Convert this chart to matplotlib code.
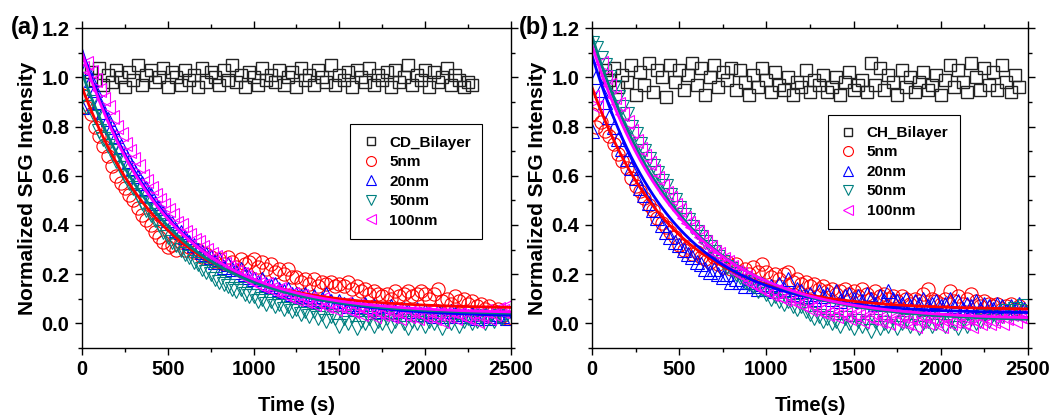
"""
SFG intensity decay, two panels (CD / CH bilayer)
"""

import matplotlib
matplotlib.use('Agg')

import numpy as np
import matplotlib.pyplot as plt

# time grids (s)
t_decay = np.arange(0, 2500, 25)
t_sq_a = np.arange(50, 2300, 25)
t_sq_b = np.arange(75, 2475, 25)

series_labels = ['5nm', '20nm', '50nm', '100nm']
series_colors = ['#ff0000', '#0000ff', '#008080', '#ff00ff']
series_markers = ['o', '^', 'v', '<']

# ---- panel (a) ----
sq_a = [1.02, 0.99, 1.04, 0.97, 1.01, 0.98, 1.03, 1.00, 0.96, 1.02,
        0.99, 1.05, 0.97, 1.01, 1.03, 0.98, 1.00, 1.04, 0.96, 1.02,
        1.00, 0.97, 1.03, 0.99, 1.01, 0.96, 1.04, 0.98, 1.02, 1.00,
        0.97, 1.03, 0.99, 1.05, 0.98, 1.01, 0.96, 1.02, 1.00, 0.97,
        1.04, 0.99, 1.01, 0.98, 1.03, 0.97, 1.00, 1.02, 0.96, 1.04,
        0.99, 1.01, 0.97, 1.03, 1.00, 0.98, 1.05, 0.97, 1.01, 0.99,
        1.02, 0.96, 1.03, 1.00, 0.98, 1.04, 0.97, 1.01, 0.99, 1.02,
        0.96, 1.03, 0.98, 1.00, 1.05, 0.97, 1.01, 0.99, 1.03, 0.96,
        1.02, 0.98, 1.00, 1.04, 0.97, 1.01, 0.99, 0.96, 0.98, 0.97]

a_5nm = [0.93, 0.88, 0.85, 0.80, 0.76, 0.72, 0.68, 0.64, 0.60, 0.57,
         0.55, 0.52, 0.50, 0.47, 0.44, 0.42, 0.40, 0.37, 0.35, 0.33,
         0.31, 0.32, 0.30, 0.33, 0.30, 0.31, 0.29, 0.30, 0.27, 0.28,
         0.27, 0.25, 0.26, 0.24, 0.27, 0.25, 0.23, 0.26, 0.24, 0.25,
         0.26, 0.23, 0.25, 0.22, 0.24, 0.21, 0.22, 0.20, 0.22, 0.19,
         0.19, 0.17, 0.18, 0.16, 0.18, 0.15, 0.17, 0.16, 0.17, 0.15,
         0.16, 0.15, 0.17, 0.14, 0.15, 0.13, 0.14, 0.12, 0.13, 0.12,
         0.11, 0.12, 0.10, 0.13, 0.11, 0.12, 0.13, 0.11, 0.12, 0.13,
         0.12, 0.10, 0.12, 0.14, 0.09, 0.10, 0.08, 0.11, 0.09, 0.10,
         0.08, 0.09, 0.07, 0.08, 0.06, 0.07, 0.05, 0.06, 0.03, 0.02]

a_20nm = [0.88, 1.04, 0.99, 0.95, 0.90, 0.86, 0.83, 0.80, 0.76, 0.72,
          0.69, 0.66, 0.63, 0.60, 0.57, 0.55, 0.52, 0.49, 0.47, 0.45,
          0.42, 0.41, 0.38, 0.37, 0.35, 0.33, 0.32, 0.30, 0.29, 0.28,
          0.27, 0.25, 0.26, 0.23, 0.24, 0.22, 0.21, 0.22, 0.20, 0.19,
          0.18, 0.17, 0.18, 0.16, 0.15, 0.16, 0.14, 0.13, 0.14, 0.12,
          0.12, 0.11, 0.12, 0.10, 0.11, 0.09, 0.10, 0.12, 0.09, 0.08,
          0.09, 0.08, 0.07, 0.08, 0.06, 0.07, 0.08, 0.06, 0.07, 0.05,
          0.06, 0.05, 0.07, 0.05, 0.04, 0.06, 0.05, 0.04, 0.06, 0.04,
          0.05, 0.04, 0.03, 0.05, 0.04, 0.03, 0.05, 0.04, 0.03, 0.04,
          0.03, 0.04, 0.02, 0.03, 0.04, 0.02, 0.03, 0.04, 0.03, 0.02]

a_50nm = [0.92, 0.88, 0.90, 0.84, 0.78, 0.75, 0.72, 0.70, 0.66, 0.63,
          0.60, 0.57, 0.55, 0.52, 0.49, 0.46, 0.44, 0.42, 0.40, 0.37,
          0.35, 0.33, 0.32, 0.30, 0.28, 0.27, 0.25, 0.24, 0.22, 0.21,
          0.20, 0.18, 0.17, 0.16, 0.15, 0.14, 0.13, 0.14, 0.12, 0.11,
          0.11, 0.09, 0.10, 0.08, 0.09, 0.07, 0.08, 0.06, 0.07, 0.05,
          0.06, 0.04, 0.05, 0.03, 0.05, 0.02, 0.04, 0.01, 0.03, 0.02,
          -0.01, 0.02, 0.00, 0.03, -0.02, 0.01, 0.00, 0.02, -0.01, 0.01,
          0.00, 0.02, -0.01, 0.01, 0.03, 0.00, -0.02, 0.01, 0.00, 0.02,
          -0.01, 0.01, 0.00, 0.02, -0.02, 0.01, 0.00, 0.03, -0.01, 0.01,
          0.02, 0.00, 0.01, 0.03, 0.00, 0.02, 0.01, 0.03, 0.02, 0.04]

a_100nm = [1.04, 1.06, 1.02, 0.99, 0.95, 0.91, 0.88, 0.84, 0.80, 0.77,
           0.73, 0.70, 0.67, 0.64, 0.60, 0.58, 0.55, 0.52, 0.50, 0.48,
           0.46, 0.44, 0.41, 0.40, 0.37, 0.36, 0.34, 0.33, 0.31, 0.30,
           0.28, 0.27, 0.26, 0.24, 0.23, 0.22, 0.21, 0.20, 0.19, 0.18,
           0.17, 0.16, 0.15, 0.16, 0.14, 0.13, 0.14, 0.12, 0.11, 0.12,
           0.10, 0.11, 0.09, 0.10, 0.08, 0.09, 0.10, 0.07, 0.08, 0.06,
           0.07, 0.08, 0.06, 0.05, 0.07, 0.04, 0.06, 0.05, 0.03, 0.05,
           0.04, 0.06, 0.03, 0.05, 0.02, 0.04, 0.03, 0.05, 0.02, 0.04,
           0.03, 0.05, 0.02, 0.04, 0.01, 0.03, 0.05, 0.02, 0.04, 0.03,
           0.02, 0.04, 0.01, 0.03, 0.05, 0.02, 0.04, 0.06, 0.05, 0.07]

# exponential fit parameters: y0 + amp * exp(-t / tau)
fit_a_y0 = [0.06, 0.025, 0.035, 0.04]
fit_a_amp = [0.90, 1.085, 0.985, 1.06]
fit_a_tau = [482, 508, 498, 493]

# ---- panel (b) ----
sq_b = [1.03, 0.99, 1.04, 0.96, 1.01, 0.98, 1.05, 0.93, 1.02, 0.97,
        1.06, 0.94, 1.03, 1.00, 0.92, 1.05, 0.98, 1.03, 0.95, 1.01,
        1.06, 0.97, 1.04, 0.93, 1.00, 1.05, 0.96, 1.02, 0.99, 1.04,
        0.95, 1.03, 0.98, 0.93, 1.01, 0.96, 1.04, 0.99, 0.94, 1.02,
        0.97, 0.95, 1.00, 0.93, 0.98, 0.96, 1.03, 0.94, 0.99, 0.97,
        1.01, 0.94, 0.96, 1.00, 0.93, 0.98, 1.02, 0.95, 0.97, 0.99,
        0.94, 1.06, 0.97, 1.04, 0.95, 1.01, 0.98, 0.93, 1.03, 0.96,
        1.00, 0.94, 0.98, 1.02, 0.95, 0.97, 1.01, 0.93, 0.99, 1.05,
        0.96, 1.03, 0.98, 0.94, 1.06, 1.00, 0.95, 1.04, 0.97, 1.02,
        0.95, 1.05, 0.98, 0.94, 1.01, 0.96]

b_5nm = [0.85, 0.80, 0.82, 0.78, 0.76, 0.73, 0.69, 0.66, 0.63, 0.59,
         0.56, 0.54, 0.51, 0.48, 0.46, 0.43, 0.41, 0.39, 0.37, 0.35,
         0.32, 0.30, 0.31, 0.28, 0.29, 0.27, 0.26, 0.25, 0.27, 0.24,
         0.23, 0.25, 0.22, 0.24, 0.21, 0.22, 0.20, 0.23, 0.21, 0.24,
         0.21, 0.19, 0.20, 0.18, 0.20, 0.21, 0.17, 0.18, 0.16, 0.17,
         0.15, 0.16, 0.14, 0.15, 0.13, 0.14, 0.12, 0.13, 0.14, 0.12,
         0.13, 0.11, 0.14, 0.12, 0.10, 0.13, 0.11, 0.12, 0.10, 0.11,
         0.09, 0.11, 0.10, 0.08, 0.10, 0.09, 0.12, 0.14, 0.10, 0.09,
         0.08, 0.10, 0.13, 0.09, 0.11, 0.08, 0.10, 0.12, 0.09, 0.07,
         0.09, 0.08, 0.07, 0.08, 0.06, 0.07, 0.08, 0.06, 0.07, 0.05]

b_20nm = [0.78, 1.00, 0.95, 0.90, 0.84, 0.80, 0.75, 0.71, 0.67, 0.63,
          0.59, 0.55, 0.52, 0.49, 0.46, 0.43, 0.40, 0.37, 0.35, 0.33,
          0.32, 0.30, 0.28, 0.27, 0.25, 0.24, 0.22, 0.21, 0.22, 0.20,
          0.19, 0.20, 0.17, 0.18, 0.17, 0.15, 0.17, 0.15, 0.14, 0.16,
          0.14, 0.15, 0.13, 0.16, 0.14, 0.18, 0.12, 0.14, 0.13, 0.11,
          0.12, 0.10, 0.13, 0.11, 0.12, 0.10, 0.13, 0.09, 0.11, 0.12,
          0.10, 0.11, 0.09, 0.12, 0.10, 0.08, 0.11, 0.09, 0.13, 0.10,
          0.09, 0.08, 0.10, 0.07, 0.09, 0.08, 0.10, 0.07, 0.08, 0.09,
          0.07, 0.08, 0.10, 0.07, 0.09, 0.06, 0.08, 0.07, 0.09, 0.06,
          0.08, 0.07, 0.06, 0.08, 0.07, 0.05, 0.07, 0.06, 0.08, 0.06]

b_50nm = [1.14, 1.12, 1.08, 1.05, 1.00, 0.96, 0.92, 0.88, 0.85, 0.80,
          0.77, 0.73, 0.70, 0.67, 0.64, 0.61, 0.58, 0.56, 0.52, 0.50,
          0.47, 0.44, 0.42, 0.39, 0.37, 0.35, 0.33, 0.31, 0.29, 0.27,
          0.25, 0.23, 0.22, 0.20, 0.19, 0.17, 0.16, 0.15, 0.13, 0.14,
          0.12, 0.10, 0.11, 0.09, 0.08, 0.09, 0.07, 0.06, 0.07, 0.05,
          0.04, 0.02, 0.03, 0.01, 0.02, 0.00, 0.01, -0.01, 0.02, 0.00,
          -0.02, 0.01, -0.01, 0.00, -0.03, 0.01, -0.02, 0.00, -0.01, 0.02,
          -0.02, 0.00, 0.01, -0.01, 0.02, -0.02, 0.00, 0.01, -0.01, 0.00,
          0.02, -0.01, 0.01, 0.00, -0.02, 0.01, -0.01, 0.02, 0.00, 0.01,
          0.03, 0.01, 0.04, 0.02, 0.03, 0.05, 0.04, 0.06, 0.05, 0.07]

b_100nm = [0.92, 0.88, 1.06, 1.00, 0.97, 0.92, 0.89, 0.85, 0.82, 0.78,
           0.74, 0.71, 0.68, 0.65, 0.62, 0.59, 0.56, 0.53, 0.51, 0.48,
           0.46, 0.43, 0.41, 0.39, 0.37, 0.35, 0.33, 0.31, 0.29, 0.28,
           0.26, 0.25, 0.23, 0.21, 0.20, 0.19, 0.17, 0.16, 0.15, 0.14,
           0.13, 0.12, 0.13, 0.11, 0.10, 0.11, 0.09, 0.10, 0.08, 0.09,
           0.06, 0.07, 0.05, 0.06, 0.04, 0.05, 0.03, 0.05, 0.04, 0.02,
           0.04, 0.03, 0.01, 0.03, 0.02, 0.04, 0.01, 0.03, 0.00, 0.02,
           0.01, 0.03, 0.00, 0.02, -0.01, 0.01, 0.03, 0.00, 0.02, 0.01,
           -0.01, 0.02, 0.00, 0.01, 0.03, 0.00, 0.02, -0.01, 0.01, 0.00,
           0.02, 0.00, 0.01, 0.03, 0.00, 0.02, 0.04, 0.01, 0.03, 0.02]

fit_b_y0 = [0.055, 0.04, 0.008, 0.015]
fit_b_amp = [0.905, 1.05, 1.16, 1.115]
fit_b_tau = [460, 450, 510, 510]


def draw_panel(ax, t_sq, sq, sq_label, decays, y0s, amps, taus, xlabel,
               legend_anchor):
    ax.plot(t_sq, sq, ls='none', marker='s', ms=8.5, mfc='none', mec='#222222',
            mew=1.0, label=sq_label)
    sizes = [9.5, 10.5, 10.5, 10.5]
    for vals, lab, col, mk, ms in zip(decays, series_labels, series_colors,
                                      series_markers, sizes):
        ax.plot(t_decay, vals, ls='none', marker=mk, ms=ms, mfc='none',
                mec=col, mew=0.8, label=lab)

    t_fit = np.linspace(0, 2500, 400)
    for y0, amp, tau, col in zip(y0s, amps, taus, series_colors):
        ax.plot(t_fit, y0 + amp * np.exp(-t_fit / tau), color=col, lw=2.0)

    ax.set_xlim(0, 2500)
    ax.set_ylim(-0.1, 1.2)
    ax.set_xticks(np.arange(0, 2501, 500))
    ax.set_xticks(np.arange(0, 2501, 250), minor=True)
    ax.set_yticks(np.arange(0, 1.21, 0.2))
    ax.set_yticks(np.arange(-0.1, 1.21, 0.1), minor=True)
    ax.yaxis.set_major_formatter(plt.FormatStrFormatter('%.1f'))
    ax.tick_params(which='both', direction='out', top=True, right=True,
                   width=1.0, labelsize=14.5, pad=4)
    ax.tick_params(which='major', length=5)
    ax.tick_params(which='minor', length=3)
    for lbl in ax.get_xticklabels() + ax.get_yticklabels():
        lbl.set_fontweight('bold')
    for sp in ax.spines.values():
        sp.set_linewidth(1.0)

    ax.set_xlabel(xlabel, fontsize=14.5, fontweight='bold', labelpad=12)
    ax.set_ylabel('Normalized SFG Intensity', fontsize=15, fontweight='bold',
                  labelpad=3)

    leg = ax.legend(loc='upper left', bbox_to_anchor=legend_anchor,
                    frameon=True, fancybox=False, framealpha=1,
                    edgecolor='black', prop={'size': 11, 'weight': 'bold'},
                    handletextpad=0.6, labelspacing=0.36, borderpad=0.75,
                    markerscale=0.75, handlelength=1.2, borderaxespad=0)
    leg.get_frame().set_linewidth(0.8)


def main():
    plt.rcParams['font.family'] = ['Liberation Sans', 'DejaVu Sans']

    fig = plt.figure(figsize=(10.55, 4.17), dpi=100)
    ax_a = fig.add_axes([0.0777, 0.1655, 0.4066, 0.767])
    ax_b = fig.add_axes([0.5611, 0.1655, 0.4133, 0.767])

    draw_panel(ax_a, t_sq_a, sq_a, 'CD_Bilayer',
               [a_5nm, a_20nm, a_50nm, a_100nm],
               fit_a_y0, fit_a_amp, fit_a_tau, 'Time (s)', (0.625, 0.70))
    draw_panel(ax_b, t_sq_b, sq_b, 'CH_Bilayer',
               [b_5nm, b_20nm, b_50nm, b_100nm],
               fit_b_y0, fit_b_amp, fit_b_tau, 'Time(s)', (0.541, 0.73))

    fig.text(0.010, 0.935, '(a)', fontsize=17, fontweight='bold', va='center')
    fig.text(0.492, 0.935, '(b)', fontsize=17, fontweight='bold', va='center')

    fig.savefig('out.png', dpi=100)


if __name__ == "__main__":
    main()
